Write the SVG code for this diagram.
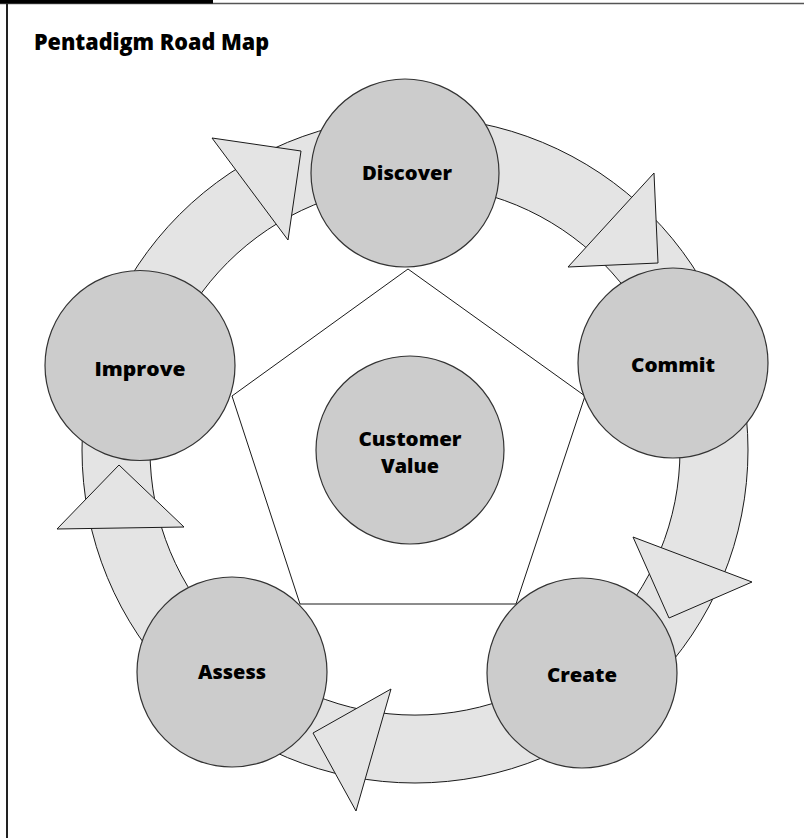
<svg xmlns="http://www.w3.org/2000/svg" width="804" height="838" viewBox="0 0 804 838">
<style>
.ring{fill:#e4e4e4;stroke:#1a1a1a;stroke-width:1;fill-rule:evenodd}
.tri{fill:#e4e4e4;stroke:#1a1a1a;stroke-width:1;stroke-linejoin:miter}
.node{fill:#cccccc;stroke:#333333;stroke-width:1.2}
.pent{fill:#ffffff;stroke:#1a1a1a;stroke-width:1}
.lbl{font-family:"Open Sans","DejaVu Sans",sans-serif;font-weight:800;font-size:19px;fill:#000;text-anchor:middle}
.title{font-family:"Open Sans","DejaVu Sans",sans-serif;font-weight:800;font-size:22px;fill:#000}
</style>
<rect x="0" y="0" width="804" height="838" fill="#ffffff"/>
<g id="frame">
<line x1="0" y1="3.5" x2="804" y2="3.5" stroke="#555555" stroke-width="1.5"/>
<rect x="0" y="0" width="213" height="3.5" fill="#000000"/>
<line x1="7" y1="3" x2="7" y2="838" stroke="#222222" stroke-width="2"/>
</g>
<text id="title" class="title" x="34" y="50" textLength="235" lengthAdjust="spacingAndGlyphs">Pentadigm Road Map</text>
<g id="connectors">
<path class="ring" d="M 82 450 A 333 333 0 1 0 748 450 A 333 333 0 1 0 82 450 Z M 150 450 A 265 265 0 1 1 680 450 A 265 265 0 1 1 150 450 Z"/>
<polygon class="tri" points="212,138 301,151 288,240"/>
<polygon class="tri" points="654,173 658,263 568,267"/>
<polygon class="tri" points="633,537 752,582 669,618"/>
<polygon class="tri" points="391,689 313,733 356,811"/>
<polygon class="tri" points="119,465 57,529 184,527"/>
<polygon class="pent" points="408,269 585,396 516,604 300,604 232,396"/>
</g>
<g id="discover">
<circle class="node" cx="405" cy="173" r="94"/>
<text class="lbl" x="407" y="179.5" textLength="90" lengthAdjust="spacingAndGlyphs">Discover</text>
</g>
<g id="commit">
<circle class="node" cx="673" cy="363" r="95"/>
<text class="lbl" x="673" y="372" textLength="84" lengthAdjust="spacingAndGlyphs">Commit</text>
</g>
<g id="create">
<circle class="node" cx="582" cy="673" r="95"/>
<text class="lbl" x="582" y="682" textLength="70" lengthAdjust="spacingAndGlyphs">Create</text>
</g>
<g id="assess">
<circle class="node" cx="232" cy="672" r="95"/>
<text class="lbl" x="232" y="679" textLength="68" lengthAdjust="spacingAndGlyphs">Assess</text>
</g>
<g id="improve">
<circle class="node" cx="140" cy="365.5" r="95"/>
<text class="lbl" x="140" y="375.5" textLength="91" lengthAdjust="spacingAndGlyphs">Improve</text>
</g>
<g id="customer-value">
<circle class="node" cx="410" cy="450" r="94"/>
<text class="lbl" x="410" y="446" textLength="103" lengthAdjust="spacingAndGlyphs">Customer</text>
<text class="lbl" x="410" y="472.5" textLength="58" lengthAdjust="spacingAndGlyphs">Value</text>
</g>
</svg>
